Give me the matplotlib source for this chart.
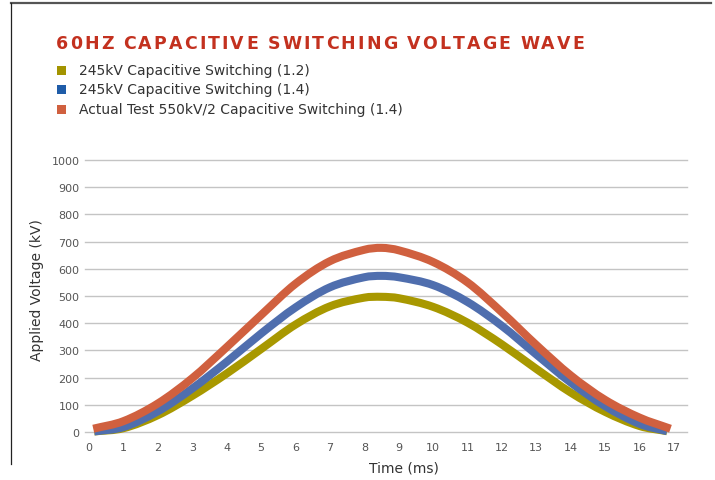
import numpy as np
import matplotlib
matplotlib.use("Agg")
import matplotlib.pyplot as plt
from matplotlib.path import Path
from matplotlib.patches import PathPatch, Rectangle
from matplotlib.lines import Line2D

# ---- data ----
title = "60HZ CAPACITIVE SWITCHING VOLTAGE WAVE"
series_names = [
    "245kV Capacitive Switching (1.2)",
    "245kV Capacitive Switching (1.4)",
    "Actual Test 550kV/2 Capacitive Switching (1.4)",
]
t_yellow = [0.15, 1, 2, 3, 4, 5, 6, 7, 8, 8.5, 9, 10, 11, 12, 13, 14, 15, 16, 16.8]
v_yellow = [2, 14, 62, 133, 215, 305, 395, 462, 494, 497, 492, 460, 402, 322, 232, 145, 74, 22, 3]
t_blue = [0.15, 1, 2, 3, 4, 5, 6, 7, 8, 8.5, 9, 10, 11, 12, 13, 14, 15, 16, 16.8]
v_blue = [2, 18, 76, 160, 258, 362, 458, 532, 569, 574, 569, 540, 478, 390, 285, 182, 95, 30, 3]
t_orange = [0.12, 1, 2, 3, 4, 5, 6, 7, 8, 8.5, 9, 10, 11, 12, 13, 14, 15, 16, 16.9]
v_orange = [12, 40, 105, 198, 312, 430, 545, 628, 670, 677, 668, 625, 550, 440, 320, 208, 118, 53, 12]
y_ticks = [0, 100, 200, 300, 400, 500, 600, 700, 800, 900, 1000]
x_ticks = list(range(0, 18))

line_colors = ["#A89800", "#4F6EAE", "#D0603F"]
legend_colors = ["#A39400", "#1F5CA8", "#D0603F"]

W, H = 715, 481
fig = plt.figure(figsize=(W / 100, H / 100), dpi=100)
fig.patch.set_facecolor("white")

def fx(px):
    return px / W

def fy(py):
    return 1 - py / H

ax = fig.add_axes([fx(85), fy(433), fx(687) - fx(85), fy(161) - fy(433)])
ax.set_xlim(-0.12, 17.38)
ax.set_ylim(0, 1000)
for s in ax.spines.values():
    s.set_visible(False)
ax.set_yticks(y_ticks)
ax.set_xticks(x_ticks)
ax.set_yticklabels([str(v) for v in y_ticks])
ax.set_xticklabels([str(v) for v in x_ticks])
ax.tick_params(axis="both", length=0, labelsize=8, labelcolor="#555555")
ax.tick_params(axis="y", pad=4)
ax.tick_params(axis="x", pad=7)
ax.grid(axis="y", color="#C4C4C4", linewidth=1.0)
for gl in ax.get_ygridlines():
    gl.set_clip_on(False)
ax.set_axisbelow(True)


def smooth_path(xs, ys):
    # cubic Hermite Bezier segments with x-based tangents (smoothed line)
    x = np.asarray(xs, float)
    y = np.asarray(ys, float)
    n = len(x)
    m = np.zeros(n)
    for i in range(n):
        if i == 0:
            m[i] = (y[1] - y[0]) / (x[1] - x[0])
        elif i == n - 1:
            m[i] = (y[-1] - y[-2]) / (x[-1] - x[-2])
        else:
            m[i] = (y[i + 1] - y[i - 1]) / (x[i + 1] - x[i - 1])
    verts = [(x[0], y[0])]
    codes = [Path.MOVETO]
    for i in range(n - 1):
        h = x[i + 1] - x[i]
        verts += [(x[i] + h / 3, y[i] + m[i] * h / 3),
                  (x[i + 1] - h / 3, y[i + 1] - m[i + 1] * h / 3),
                  (x[i + 1], y[i + 1])]
        codes += [Path.CURVE4] * 3
    return Path(np.array(verts), codes)


for (xs, ys), col in zip([(t_yellow, v_yellow), (t_blue, v_blue), (t_orange, v_orange)], line_colors):
    patch = PathPatch(smooth_path(xs, ys), facecolor="none", edgecolor=col,
                      linewidth=5.8, capstyle="butt", joinstyle="round",
                      transform=ax.transData, clip_on=False, zorder=3)
    ax.add_patch(patch)

# axis labels
fig.text(fx(37), fy(290), "Applied Voltage (kV)", rotation=90, ha="center", va="center",
         fontsize=10, color="#333333")
fig.text(fx(404), fy(469), "Time (ms)", ha="center", va="center", fontsize=10, color="#333333")

# title with letter spacing
fig.canvas.draw()
renderer = fig.canvas.get_renderer()
x = 56.0
spacing = 2.1
for ch in title:
    t = fig.text(fx(x), fy(44), ch, ha="left", va="center", fontsize=12.5,
                 fontweight="bold", color="#C3311F")
    if ch == " ":
        w = 5.5
        t.set_text("")
    else:
        w = t.get_window_extent(renderer).width
    x += w + spacing

# legend
rows_y = [71, 90, 110]
for name, col, yy in zip(series_names, legend_colors, rows_y):
    fig.patches.append(Rectangle((fx(57), fy(yy + 4.5)), fx(9), 9 / H,
                                 transform=fig.transFigure, facecolor=col,
                                 edgecolor="none", figure=fig))
    fig.text(fx(79), fy(yy), name, ha="left", va="center", fontsize=10, color="#333333")

# frame lines
fig.add_artist(Line2D([fx(11), fx(711)], [fy(4), fy(4)], color="#555555", linewidth=1.6,
                      transform=fig.transFigure))
fig.add_artist(Line2D([fx(11), fx(11)], [fy(4), fy(465)], color="#222222", linewidth=0.9,
                      transform=fig.transFigure))

fig.savefig("out.png", dpi=100, facecolor="white")
